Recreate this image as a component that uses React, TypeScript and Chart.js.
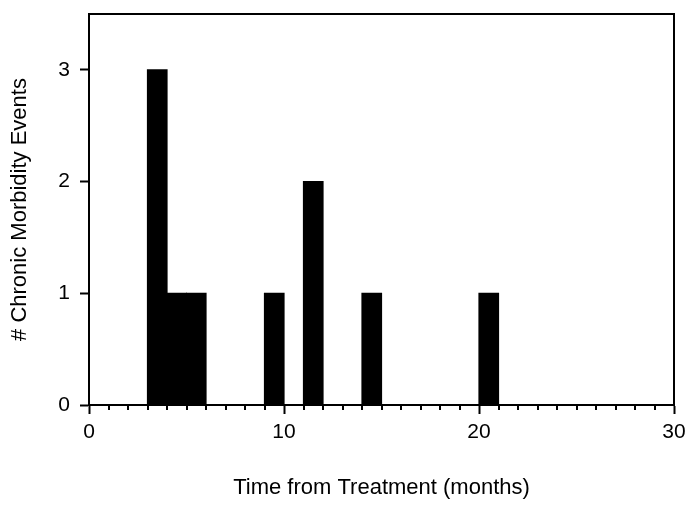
import React, { useEffect, useRef } from "react";
import { Chart, registerables } from "chart.js";

Chart.register(...registerables);

const binStarts = [3, 4, 5, 9, 11, 14, 20];
const eventCounts = [3, 1, 1, 1, 2, 1, 1];
const binWidth = 1;
const xMajorTicks = [0, 10, 20, 30];
const yTicks = [0, 1, 2, 3];

const FONT = "'Liberation Sans', Arial, sans-serif";

const frameAndMinorTicks = {
  id: "frameAndMinorTicks",
  afterDraw(chart: any) {
    const { ctx, chartArea, scales } = chart;
    const x = scales.x;
    ctx.save();
    ctx.strokeStyle = "#000";
    ctx.lineWidth = 2;
    ctx.strokeRect(
      chartArea.left,
      chartArea.top,
      chartArea.right - chartArea.left,
      chartArea.bottom - chartArea.top
    );
    ctx.beginPath();
    for (const t of x.ticks) {
      if (xMajorTicks.includes(t.value)) continue;
      const px = Math.round(x.getPixelForValue(t.value));
      ctx.moveTo(px, chartArea.bottom);
      ctx.lineTo(px, chartArea.bottom + 5);
    }
    ctx.stroke();
    ctx.restore();
  },
};

export default function App() {
  const ref = useRef<HTMLCanvasElement>(null);

  useEffect(() => {
    document.body.style.margin = "0";
    const data = binStarts.map((s, i) => ({ x: s + binWidth / 2, y: eventCounts[i] }));
    const chart = new Chart(ref.current!, {
      type: "bar",
      data: {
        datasets: [
          {
            data: data as any,
            backgroundColor: "#000",
            borderWidth: 0,
            inflateAmount: 0.6,
            barPercentage: 1,
            categoryPercentage: 1,
          } as any,
        ],
      },
      plugins: [frameAndMinorTicks],
      options: {
        animation: false,
        responsive: false,
        maintainAspectRatio: false,
        layout: { padding: { top: 14, right: 19, left: 0, bottom: 0 } },
        plugins: { legend: { display: false }, tooltip: { enabled: false } },
        scales: {
          x: {
            type: "linear",
            min: 0,
            max: 30,
            offset: false,
            afterFit: (s: any) => {
              s.height = 101;
              s.paddingLeft = 0;
              s.paddingRight = 0;
            },
            ticks: {
              stepSize: 1,
              autoSkip: false,
              maxRotation: 0,
              includeBounds: false,
              color: "#000",
              padding: 6,
              font: { family: FONT, size: 21 },
              callback: (v: any) => (xMajorTicks.includes(Number(v)) ? String(v) : ""),
            },
            grid: {
              display: true,
              offset: false,
              drawOnChartArea: false,
              tickLength: 9,
              tickWidth: 2,
              tickColor: (c: any) =>
                c.tick && xMajorTicks.includes(c.tick.value) ? "#000" : "rgba(0,0,0,0)",
            },
            border: { display: true, color: "#000", width: 2 },
            title: {
              display: true,
              text: "Time from Treatment (months)",
              color: "#000",
              font: { family: FONT, size: 22 },
              padding: { top: 4, bottom: 5 },
            },
          },
          y: {
            type: "linear",
            min: 0,
            max: 3.5,
            afterFit: (s: any) => {
              s.width = 89;
              s.paddingTop = 0;
              s.paddingBottom = 0;
            },
            afterBuildTicks: (s: any) => {
              s.ticks = yTicks.map((v) => ({ value: v }));
            },
            ticks: {
              stepSize: 1,
              includeBounds: false,
              color: "#000",
              padding: 10,
              font: { family: FONT, size: 21 },
            },
            grid: {
              display: true,
              drawOnChartArea: false,
              tickLength: 9,
              tickWidth: 2,
              tickColor: "#000",
            },
            border: { display: true, color: "#000", width: 2 },
            title: {
              display: true,
              text: "# Chronic Morbidity Events",
              color: "#000",
              font: { family: FONT, size: 22 },
              padding: { top: 7, bottom: 4 },
            },
          },
        },
      },
    });
    return () => chart.destroy();
  }, []);

  return (
    <div style={{ position: "relative", width: 693, height: 506 }}>
      <canvas ref={ref} width={693} height={506} style={{ display: "block" }} />
    </div>
  );
}
